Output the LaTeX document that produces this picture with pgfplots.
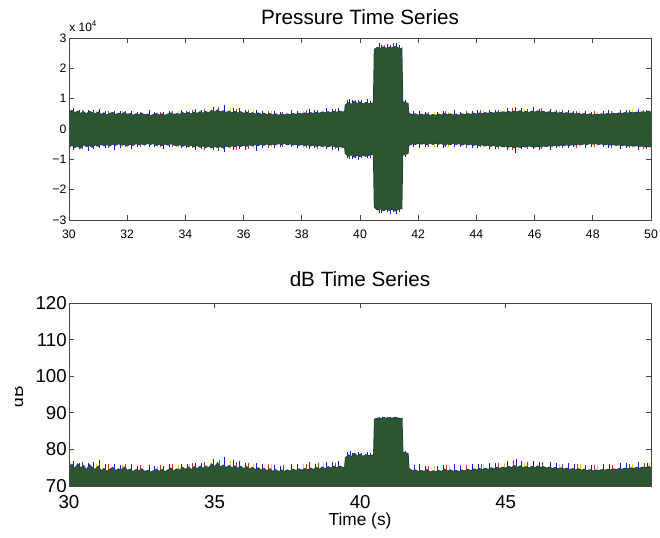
\documentclass[border=0pt]{standalone}
\usepackage{fontspec}
\setmainfont{Liberation Sans}
\usepackage{pgfplots}
\usepackage{pgfplotstable}
\pgfplotsset{compat=1.18}
\definecolor{mygreen}{RGB}{44,86,48}
\definecolor{mblue}{RGB}{20,30,200}
\definecolor{mred}{RGB}{215,40,40}
\definecolor{myellow}{RGB}{230,215,0}
\definecolor{medge}{RGB}{38,52,105}
\definecolor{axgray}{RGB}{70,70,70}

\pgfplotstableread{
t pu pl db
30.0 0.55 -0.58 75.2
30.1 0.60 -0.52 75.8
30.2 0.52 -0.60 74.6
30.3 0.58 -0.55 75.9
30.4 0.50 -0.62 74.8
30.5 0.56 -0.50 75.5
30.6 0.48 -0.57 74.2
30.7 0.57 -0.53 75.7
30.8 0.53 -0.59 74.9
30.9 0.49 -0.51 74.4
31.0 0.55 -0.56 75.3
31.1 0.47 -0.49 74.0
31.2 0.52 -0.54 74.7
31.3 0.45 -0.50 73.9
31.4 0.50 -0.55 74.5
31.5 0.54 -0.48 75.0
31.6 0.46 -0.53 74.1
31.7 0.51 -0.47 74.6
31.8 0.48 -0.52 74.3
31.9 0.53 -0.50 75.1
32.0 0.47 -0.55 74.2
32.1 0.50 -0.49 74.5
32.2 0.44 -0.53 73.8
32.3 0.49 -0.47 74.4
32.4 0.46 -0.51 74.0
32.5 0.51 -0.48 74.6
32.6 0.45 -0.52 73.9
32.7 0.48 -0.46 74.2
32.8 0.43 -0.50 73.7
32.9 0.47 -0.47 74.1
33.0 0.50 -0.53 74.5
33.1 0.45 -0.49 73.9
33.2 0.49 -0.54 74.4
33.3 0.44 -0.48 73.8
33.4 0.48 -0.52 74.3
33.5 0.52 -0.47 74.8
33.6 0.46 -0.51 74.0
33.7 0.50 -0.55 74.6
33.8 0.47 -0.50 74.2
33.9 0.53 -0.56 75.0
34.0 0.49 -0.51 74.4
34.1 0.54 -0.57 75.1
34.2 0.48 -0.52 74.3
34.3 0.55 -0.58 75.2
34.4 0.50 -0.53 74.6
34.5 0.56 -0.59 75.3
34.6 0.51 -0.54 74.7
34.7 0.57 -0.60 75.4
34.8 0.52 -0.55 74.8
34.9 0.60 -0.61 75.9
35.0 0.54 -0.56 75.0
35.1 0.62 -0.60 76.2
35.2 0.55 -0.57 75.1
35.3 0.59 -0.62 75.6
35.4 0.53 -0.55 74.9
35.5 0.58 -0.59 75.5
35.6 0.52 -0.54 74.8
35.7 0.57 -0.58 75.4
35.8 0.51 -0.53 74.7
35.9 0.56 -0.57 75.3
36.0 0.50 -0.52 74.6
36.1 0.55 -0.56 75.2
36.2 0.49 -0.51 74.5
36.3 0.53 -0.55 75.0
36.4 0.48 -0.50 74.4
36.5 0.52 -0.54 74.9
36.6 0.47 -0.49 74.2
36.7 0.51 -0.53 74.7
36.8 0.46 -0.48 74.0
36.9 0.50 -0.52 74.6
37.0 0.45 -0.49 73.9
37.1 0.49 -0.51 74.4
37.2 0.44 -0.47 73.8
37.3 0.48 -0.50 74.3
37.4 0.45 -0.46 73.9
37.5 0.49 -0.51 74.3
37.6 0.46 -0.48 74.0
37.7 0.50 -0.52 74.5
37.8 0.47 -0.49 74.1
37.9 0.51 -0.53 74.6
38.0 0.48 -0.50 74.2
38.1 0.52 -0.54 74.7
38.2 0.49 -0.51 74.3
38.3 0.53 -0.55 74.8
38.4 0.50 -0.52 74.4
38.5 0.54 -0.56 75.0
38.6 0.51 -0.53 74.5
38.7 0.55 -0.57 75.1
38.8 0.52 -0.54 74.6
38.9 0.56 -0.58 75.2
39.0 0.53 -0.55 74.8
39.1 0.57 -0.56 75.3
39.2 0.54 -0.59 74.9
39.3 0.58 -0.57 75.4
39.4 0.55 -0.60 75.0
39.48 0.56 -0.58 75.1
39.5 0.78 -0.80 77.6
39.6 0.86 -0.88 78.4
39.7 0.80 -0.84 77.9
39.8 0.90 -0.92 78.8
39.9 0.83 -0.86 78.1
40.0 0.88 -0.90 78.6
40.1 0.81 -0.85 78.0
40.2 0.87 -0.89 78.5
40.3 0.82 -0.86 78.2
40.4 0.84 -0.83 78.3
40.47 0.85 -0.84 78.4
40.5 2.62 -2.58 88.2
40.6 2.68 -2.66 88.5
40.7 2.64 -2.62 88.3
40.8 2.70 -2.68 88.6
40.9 2.65 -2.63 88.4
41.0 2.69 -2.67 88.6
41.1 2.66 -2.64 88.4
41.2 2.71 -2.69 88.7
41.3 2.67 -2.65 88.5
41.4 2.63 -2.60 88.3
41.43 2.65 -2.62 88.4
41.46 0.90 -0.85 79.2
41.55 0.86 -0.83 79.0
41.64 0.84 -0.80 78.8
41.67 0.50 -0.52 74.6
41.7 0.50 -0.52 74.6
41.8 0.46 -0.48 74.0
41.9 0.49 -0.50 74.3
42.0 0.44 -0.46 73.8
42.1 0.48 -0.49 74.2
42.2 0.45 -0.47 73.9
42.3 0.49 -0.51 74.4
42.4 0.43 -0.45 73.7
42.5 0.47 -0.50 74.1
42.6 0.44 -0.46 73.8
42.7 0.48 -0.49 74.2
42.8 0.45 -0.47 73.9
42.9 0.50 -0.52 74.5
43.0 0.46 -0.48 74.0
43.1 0.49 -0.51 74.3
43.2 0.45 -0.46 73.9
43.3 0.48 -0.50 74.2
43.4 0.44 -0.47 73.8
43.5 0.49 -0.52 74.3
43.6 0.46 -0.48 74.0
43.7 0.50 -0.51 74.5
43.8 0.47 -0.49 74.1
43.9 0.51 -0.53 74.6
44.0 0.48 -0.50 74.2
44.1 0.52 -0.54 74.7
44.2 0.49 -0.51 74.3
44.3 0.53 -0.55 74.8
44.4 0.50 -0.52 74.4
44.5 0.54 -0.56 74.9
44.6 0.51 -0.53 74.6
44.7 0.55 -0.57 75.0
44.8 0.52 -0.54 74.7
44.9 0.56 -0.58 75.1
45.0 0.53 -0.55 74.8
45.1 0.57 -0.59 75.3
45.2 0.54 -0.56 74.9
45.3 0.58 -0.61 75.5
45.4 0.55 -0.57 75.0
45.5 0.59 -0.60 75.4
45.6 0.54 -0.56 74.9
45.7 0.57 -0.58 75.2
45.8 0.53 -0.55 74.8
45.9 0.58 -0.57 75.3
46.0 0.54 -0.59 74.9
46.1 0.59 -0.56 75.4
46.2 0.55 -0.58 75.0
46.3 0.57 -0.55 75.2
46.4 0.53 -0.57 74.8
46.5 0.56 -0.54 75.1
46.6 0.52 -0.56 74.7
46.7 0.55 -0.53 75.0
46.8 0.51 -0.55 74.6
46.9 0.54 -0.52 74.9
47.0 0.50 -0.54 74.5
47.1 0.53 -0.51 74.8
47.2 0.49 -0.53 74.4
47.3 0.52 -0.50 74.7
47.4 0.48 -0.52 74.3
47.5 0.51 -0.49 74.6
47.6 0.47 -0.51 74.2
47.7 0.50 -0.48 74.5
47.8 0.46 -0.50 74.1
47.9 0.49 -0.47 74.4
48.0 0.45 -0.49 74.0
48.1 0.48 -0.47 74.3
48.2 0.46 -0.50 74.1
48.3 0.49 -0.48 74.4
48.4 0.47 -0.51 74.2
48.5 0.50 -0.49 74.5
48.6 0.48 -0.52 74.3
48.7 0.51 -0.50 74.6
48.8 0.49 -0.53 74.4
48.9 0.52 -0.51 74.7
49.0 0.50 -0.54 74.5
49.1 0.53 -0.52 74.8
49.2 0.51 -0.55 74.6
49.3 0.54 -0.53 74.9
49.4 0.52 -0.56 74.7
49.5 0.55 -0.54 75.0
49.6 0.53 -0.57 74.8
49.7 0.56 -0.55 75.1
49.8 0.54 -0.58 74.9
49.9 0.57 -0.56 75.2
50.0 0.55 -0.57 75.0
}\main

\pgfplotstableread{
t pu pl db
30.15 0.68 -0.70 76.8
30.35 0.63 -0.66 76.3
30.65 0.62 -0.72 76.2
30.85 0.64 -0.65 76.6
31.05 0.66 -0.64 77.0
31.25 0.59 -0.63 75.9
31.55 0.60 -0.68 75.9
31.75 0.58 -0.62 75.7
32.15 0.58 -0.66 76.0
32.35 0.56 -0.60 75.6
32.75 0.61 -0.60 75.8
32.95 0.55 -0.59 75.5
33.25 0.57 -0.65 75.6
33.45 0.59 -0.60 75.9
33.85 0.63 -0.62 76.1
34.05 0.60 -0.64 75.9
34.35 0.66 -0.70 76.4
34.55 0.64 -0.67 76.2
34.95 0.72 -0.68 77.3
35.15 0.66 -0.72 76.8
35.35 0.78 -0.75 77.8
35.65 0.68 -0.70 77.0
35.85 0.70 -0.66 76.9
36.05 0.63 -0.68 76.2
36.45 0.64 -0.71 76.3
36.65 0.60 -0.62 75.9
37.05 0.59 -0.63 75.8
37.25 0.56 -0.60 75.6
37.65 0.62 -0.60 76.0
37.85 0.60 -0.63 75.9
38.25 0.66 -0.67 76.5
38.45 0.62 -0.64 76.1
38.85 0.70 -0.66 76.6
39.05 0.66 -0.68 76.5
39.25 0.68 -0.72 76.9
39.55 0.96 -0.95 79.2
39.65 1.00 -0.98 79.6
39.75 0.94 -0.99 79.0
39.95 0.97 -1.02 79.3
40.05 0.95 -0.97 79.1
40.25 0.99 -0.96 79.4
40.35 0.93 -0.95 79.0
40.65 2.85 -2.78 88.8
40.75 2.78 -2.76 88.8
40.95 2.80 -2.74 88.9
41.05 2.77 -2.79 88.8
41.25 2.84 -2.80 88.8
41.35 2.76 -2.73 88.7
41.55 0.95 -0.92 79.6
41.85 0.58 -0.60 75.8
42.05 0.60 -0.62 76.0
42.25 0.56 -0.60 75.6
42.65 0.57 -0.60 75.6
42.85 0.58 -0.62 75.8
43.25 0.62 -0.59 76.1
43.45 0.57 -0.61 75.7
43.85 0.60 -0.64 76.0
44.05 0.61 -0.62 76.1
44.45 0.64 -0.66 76.4
44.65 0.62 -0.65 76.3
45.05 0.70 -0.68 76.9
45.35 0.74 -0.78 77.4
45.55 0.69 -0.66 76.8
45.95 0.72 -0.66 76.8
46.15 0.66 -0.69 76.5
46.55 0.66 -0.70 76.6
46.75 0.63 -0.64 76.2
47.15 0.62 -0.64 76.2
47.35 0.60 -0.61 75.9
47.75 0.58 -0.62 75.8
47.95 0.57 -0.60 75.7
48.35 0.60 -0.58 76.0
48.55 0.61 -0.62 76.1
48.95 0.63 -0.65 76.3
49.15 0.62 -0.63 76.2
49.55 0.66 -0.68 76.5
49.85 0.64 -0.66 76.4
}\bluespk

\pgfplotstableread{
t pu pl db
30.45 0.64 -0.66 76.6
31.35 0.58 -0.62 76.0
31.95 0.60 -0.58 75.9
32.45 0.56 -0.60 75.7
33.15 0.57 -0.59 75.8
33.55 0.60 -0.58 75.9
34.25 0.63 -0.64 76.2
34.65 0.66 -0.68 76.5
35.15 0.74 -0.70 77.2
35.75 0.66 -0.68 76.6
36.15 0.64 -0.66 76.4
36.85 0.59 -0.62 75.9
37.35 0.57 -0.59 75.7
38.15 0.61 -0.62 76.0
38.55 0.63 -0.65 76.2
39.15 0.65 -0.66 76.4
39.85 0.95 -0.97 79.0
40.85 2.78 -2.72 88.9
41.15 2.82 -2.75 88.8
42.35 0.56 -0.58 75.5
42.95 0.58 -0.59 75.7
43.65 0.58 -0.62 75.8
44.15 0.61 -0.60 76.0
44.75 0.64 -0.66 76.3
45.25 0.70 -0.68 77.0
45.75 0.66 -0.67 76.6
46.25 0.68 -0.66 76.5
46.95 0.62 -0.63 76.1
47.45 0.60 -0.62 75.9
48.05 0.58 -0.60 75.7
48.65 0.58 -0.64 75.8
49.25 0.61 -0.62 76.0
49.75 0.64 -0.66 76.2
}\redspk

\pgfplotstableread{
t pu pl db
30.05 0.62 -0.64 76.5
30.95 0.60 -0.61 76.0
31.85 0.58 -0.60 75.8
33.05 0.55 -0.61 75.6
33.75 0.58 -0.60 75.8
34.15 0.62 -0.64 76.0
34.85 0.64 -0.66 76.4
35.55 0.68 -0.66 76.7
36.35 0.61 -0.63 76.0
36.95 0.58 -0.60 75.9
38.05 0.60 -0.62 76.0
38.75 0.62 -0.63 76.2
39.45 0.64 -0.70 76.6
40.55 2.70 -2.65 88.4
41.65 0.86 -0.84 78.2
42.55 0.56 -0.58 75.5
43.05 0.57 -0.58 75.7
44.25 0.60 -0.63 76.0
44.95 0.63 -0.64 76.3
45.65 0.66 -0.62 76.4
46.85 0.62 -0.64 76.1
47.55 0.59 -0.61 75.9
48.15 0.56 -0.60 75.7
49.35 0.62 -0.62 76.1
49.95 0.63 -0.64 76.3
}\yelspk

\pgfplotsset{
  mystyle/.style={
    scale only axis,
    width=436.5pt,
    axis on top,
    clip mode=individual,
    axis line style={axgray, line width=0.5pt},
    tick style={axgray, line width=0.5pt},
    major tick length=3.5pt,
    tick align=inside,
    /pgf/number format/assume math mode=true,
    title style={font=\fontsize{15.5}{18}\selectfont, anchor=base},
  },
  spk/.style={ycomb, no marks, line width=0.6pt},
  edge/.style={medge, no marks, line width=1.1pt, line join=miter},
}

\begin{document}
\begin{tikzpicture}
\useasboundingbox (0,0) rectangle (495pt,403.5pt);

% ---- top: pressure ----
\begin{axis}[mystyle,
  at={(51.75pt,238.5pt)}, anchor=south west,
  height=136.5pt,
  xmin=30, xmax=50, ymin=-3, ymax=3,
  xtick={30,32,34,36,38,40,42,44,46,48,50},
  ytick={-3,-2,-1,0,1,2,3},
  yticklabels={−3,−2,−1,0,1,2,3},
  ticklabel style={font=\fontsize{9.2}{11}\selectfont},
  xticklabel style={anchor=north, inner sep=0pt, yshift=-7.5pt},
  yticklabel style={anchor=east, inner sep=0pt, xshift=-1.8pt},
  title={Pressure Time Series},
  title style={yshift=3.75pt},
]
\addplot[spk, mblue] table[x=t,y=pu]{\bluespk};
\addplot[spk, mblue] table[x=t,y=pl]{\bluespk};
\addplot[spk, mred] table[x=t,y=pu]{\redspk};
\addplot[spk, mred] table[x=t,y=pl]{\redspk};
\addplot[spk, myellow] table[x=t,y=pu]{\yelspk};
\addplot[spk, myellow] table[x=t,y=pl]{\yelspk};
\addplot[edge] table[x=t,y=pu]{\main};
\addplot[edge] table[x=t,y=pl]{\main};
\addplot[fill=mygreen, draw=none, no marks] table[x=t,y=pu]{\main} \closedcycle;
\addplot[fill=mygreen, draw=none, no marks] table[x=t,y=pl]{\main} \closedcycle;
\node[anchor=base west, inner sep=0pt, yshift=4.5pt, font=\fontsize{9}{11}\selectfont]
  at (rel axis cs:0,1) {x 10\textsuperscript{4}};
\end{axis}

% ---- bottom: dB ----
\begin{axis}[mystyle,
  at={(51.75pt,39pt)}, anchor=south west,
  height=137.25pt,
  xmin=30, xmax=49.99, ymin=70, ymax=120,
  xtick={30,35,40,45},
  ytick={70,80,90,100,110,120},
  ticklabel style={font=\fontsize{14}{16}\selectfont},
  xticklabel style={anchor=north, inner sep=0pt, yshift=-6.75pt},
  yticklabel style={anchor=east, inner sep=0pt, xshift=-1.5pt},
  title={dB Time Series},
  title style={yshift=6pt},
  xlabel={Time (s)},
  xlabel style={font=\fontsize{13}{15}\selectfont},
]
\addplot[spk, mblue] table[x=t,y=db]{\bluespk};
\addplot[spk, mred] table[x=t,y=db]{\redspk};
\addplot[spk, myellow] table[x=t,y=db]{\yelspk};
\addplot[edge] table[x=t,y=db]{\main};
\addplot[fill=mygreen, draw=none, no marks] table[x=t,y=db]{\main} \closedcycle;
\end{axis}

\begin{scope}
\clip (11.25pt,90pt) rectangle (25pt,122pt);
\node[rotate=90, anchor=base, inner sep=0pt, font=\fontsize{13}{15}\selectfont]
  at (17.25pt,105.75pt) {dB};
\end{scope}
\end{tikzpicture}
\end{document}
